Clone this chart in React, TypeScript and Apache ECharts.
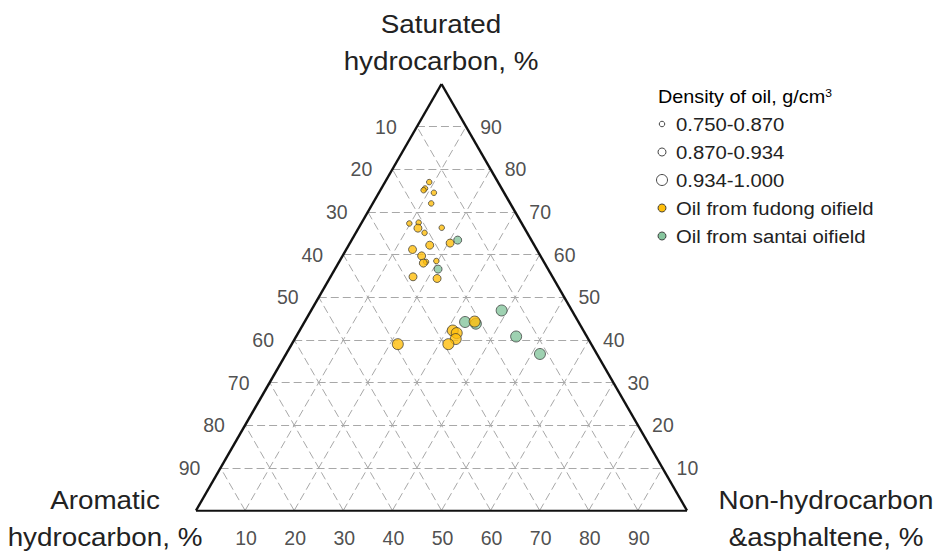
import { useEffect, useRef } from "react";
import * as echarts from "echarts";

// Ternary composition of crude oils (percent of saturated / aromatic / non-hydrocarbon + asphaltene)
const tickValues = [10, 20, 30, 40, 50, 60, 70, 80, 90];
const densityClasses = ["0.750-0.870", "0.870-0.934", "0.934-1.000"];

// Fudong oilfield samples; density class: 0 = 0.750-0.870, 1 = 0.870-0.934, 2 = 0.934-1.000
const fudongSaturated = [77.0, 75.5, 75.1, 74.5, 72.0, 67.3, 67.5, 66.2, 65.1, 66.3, 62.7, 62.2, 61.2, 59.7, 58.3, 58.0, 58.5, 54.8, 54.4, 39.0, 42.2, 41.6, 40.2, 39.0, 44.3];
const fudongAromatic = [14.0, 15.6, 16.1, 14.3, 16.1, 22.9, 20.9, 21.7, 20.9, 16.8, 16.9, 21.3, 25.3, 24.2, 24.0, 24.7, 21.8, 28.4, 23.7, 39.4, 26.6, 26.1, 27.0, 29.1, 21.1];
const fudongNonHydro = [9.0, 8.9, 8.8, 11.2, 11.9, 9.8, 11.6, 12.1, 14.0, 16.9, 20.4, 16.5, 13.5, 16.1, 17.7, 17.3, 19.7, 16.8, 21.9, 21.6, 31.2, 32.3, 32.8, 31.9, 34.6];
const fudongDensity = [0, 0, 0, 0, 0, 0, 0, 1, 0, 0, 1, 1, 1, 1, 0, 1, 0, 1, 1, 2, 2, 2, 2, 2, 2];

// Santai oilfield samples
const santaiSaturated = [63.4, 56.6, 44.2, 43.8, 46.9, 40.8, 36.7];
const santaiAromatic = [15.0, 22.4, 23.1, 21.1, 14.3, 14.4, 11.6];
const santaiNonHydro = [21.6, 21.0, 32.7, 35.1, 38.8, 44.8, 51.7];
const santaiDensity = [1, 1, 2, 2, 2, 2, 2];

const FONT = "'Liberation Sans', Arial, sans-serif";
const YELLOW = "#FFBE0B";
const GREEN = "#86C69E";
const classSizes = [5.5, 8, 11];
const TEXT_STRETCH = 1.07;

// Cartesian position of a ternary point: x = N + S/2, y = S (the y axis is scaled to keep the triangle equilateral)
const toXY = (s: number, n: number) => [n + s / 2, s];

function buildPoints(sat: number[], aro: number[], non: number[], cls: number[]) {
  return sat.map((s, i) => {
    const total = s + aro[i] + non[i];
    const sn = (s / total) * 100;
    const nn = (non[i] / total) * 100;
    const [x, y] = toXY(sn, nn);
    return [x, y, cls[i]];
  });
}

export default function App() {
  const ref = useRef<HTMLDivElement>(null);

  useEffect(() => {
    if (!ref.current) return;
    const chart = echarts.init(ref.current, null, { renderer: "svg" });

    const gridLines: any[] = [];
    tickValues.forEach((t) => {
      gridLines.push({ coords: [toXY(t, 0), toXY(t, 100 - t)] }); // saturated = t
      gridLines.push({ coords: [toXY(0, t), toXY(100 - t, t)] }); // non-hydrocarbon = t
      gridLines.push({ coords: [toXY(0, 100 - t), toXY(100 - t, 0)] }); // aromatic = t
    });
    const edges = [
      { coords: [toXY(0, 0), toXY(0, 100)] },
      { coords: [toXY(0, 100), toXY(100, 0)] },
      { coords: [toXY(100, 0), toXY(0, 0)] },
    ];

    const tickSeries = (data: number[][], labels: number[], offset: number[]) => ({
      type: "scatter",
      silent: true,
      symbolSize: 1,
      itemStyle: { color: "transparent" },
      data: data.map((d, i) => ({ value: d, name: String(labels[i]) })),
      label: {
        show: true,
        position: "inside",
        offset,
        formatter: (p: any) => p.name,
        color: "#222",
        fontSize: 19.5,
        fontFamily: FONT,
      },
      z: 5,
    });

    const pointStyle = (color: string) => ({
      color,
      borderColor: "#333",
      borderWidth: 0.9,
    });

    const legendX = 662;
    const legendTextX = 676;
    const legendRows = [124, 152, 180, 208, 236];
    const legendGraphics: any[] = [
      {
        type: "text",
        x: 658,
        y: 97,
        scaleX: 1.1,
        style: {
          text: "{a|Density of oil, g/cm}{s|3}",
          x: 0,
          y: 0,
          verticalAlign: "middle",
          rich: {
            a: { fontSize: 18, fontFamily: FONT, color: "#222" },
            s: { fontSize: 11, fontFamily: FONT, color: "#222", verticalAlign: "top", padding: [0, 0, 8, 0] },
          },
        },
      },
    ];
    densityClasses.forEach((c, i) => {
      legendGraphics.push({
        type: "circle",
        shape: { cx: legendX, cy: legendRows[i], r: classSizes[i] / 2 },
        style: { fill: "#fff", stroke: "#333", lineWidth: 0.9 },
      });
      legendGraphics.push({
        type: "text",
        x: legendTextX,
        y: legendRows[i],
        scaleX: TEXT_STRETCH,
        style: { text: c, x: 0, y: 0, verticalAlign: "middle", fontSize: 19, fontFamily: FONT, fill: "#222" },
      });
    });
    [
      ["Oil from fudong oifield", YELLOW],
      ["Oil from santai oifield", GREEN],
    ].forEach(([label, color], i) => {
      legendGraphics.push({
        type: "circle",
        shape: { cx: legendX, cy: legendRows[3 + i], r: 4 },
        style: { fill: color, stroke: "#333", lineWidth: 0.9 },
      });
      legendGraphics.push({
        type: "text",
        x: legendTextX,
        y: legendRows[3 + i],
        scaleX: TEXT_STRETCH,
        style: { text: label, x: 0, y: 0, verticalAlign: "middle", fontSize: 19, fontFamily: FONT, fill: "#222" },
      });
    });

    const title = (text: string, x: number, y: number) => ({
      type: "text",
      x,
      y,
      scaleX: TEXT_STRETCH,
      style: { text, x: 0, y: 0, fontSize: 26, fontFamily: FONT, fill: "#222", align: "center", verticalAlign: "middle", lineHeight: 37 },
    });

    chart.setOption({
      animation: false,
      backgroundColor: "#fff",
      grid: { left: 196, right: 248, top: 84, bottom: 41.5 },
      xAxis: { type: "value", min: 0, max: 100, show: false },
      yAxis: { type: "value", min: 0, max: 100, show: false },
      graphic: [
        title("Saturated\nhydrocarbon, %", 441, 43),
        title("Aromatic\nhydrocarbon, %", 105, 519),
        title("Non-hydrocarbon\n&asphaltene, %", 826, 519),
        ...legendGraphics,
      ],
      series: [
        {
          type: "lines",
          coordinateSystem: "cartesian2d",
          silent: true,
          polyline: false,
          lineStyle: { color: "#a8a8a8", width: 1, type: [8, 4], opacity: 1 },
          data: gridLines,
          z: 1,
        },
        {
          type: "lines",
          coordinateSystem: "cartesian2d",
          silent: true,
          lineStyle: { color: "#111", width: 2.4, opacity: 1 },
          data: edges,
          z: 2,
        },
        tickSeries(tickValues.map((t) => toXY(100 - t, 0)), tickValues, [-31, 0]),
        tickSeries(tickValues.map((t) => toXY(t, 100 - t)), tickValues, [25, 0]),
        tickSeries(tickValues.map((t) => toXY(0, t)), tickValues, [1, 27]),
        {
          type: "scatter",
          name: "Oil from santai oifield",
          silent: true,
          data: buildPoints(santaiSaturated, santaiAromatic, santaiNonHydro, santaiDensity),
          symbolSize: (v: number[]) => classSizes[v[2]],
          itemStyle: pointStyle(GREEN),
          z: 3,
        },
        {
          type: "scatter",
          name: "Oil from fudong oifield",
          silent: true,
          data: buildPoints(fudongSaturated, fudongAromatic, fudongNonHydro, fudongDensity),
          symbolSize: (v: number[]) => classSizes[v[2]],
          itemStyle: pointStyle(YELLOW),
          z: 4,
        },
      ],
    });

    return () => chart.dispose();
  }, []);

  return (
    <div
      ref={ref}
      style={{ position: "fixed", left: 0, top: 0, width: 935, height: 552, background: "#fff" }}
    />
  );
}
